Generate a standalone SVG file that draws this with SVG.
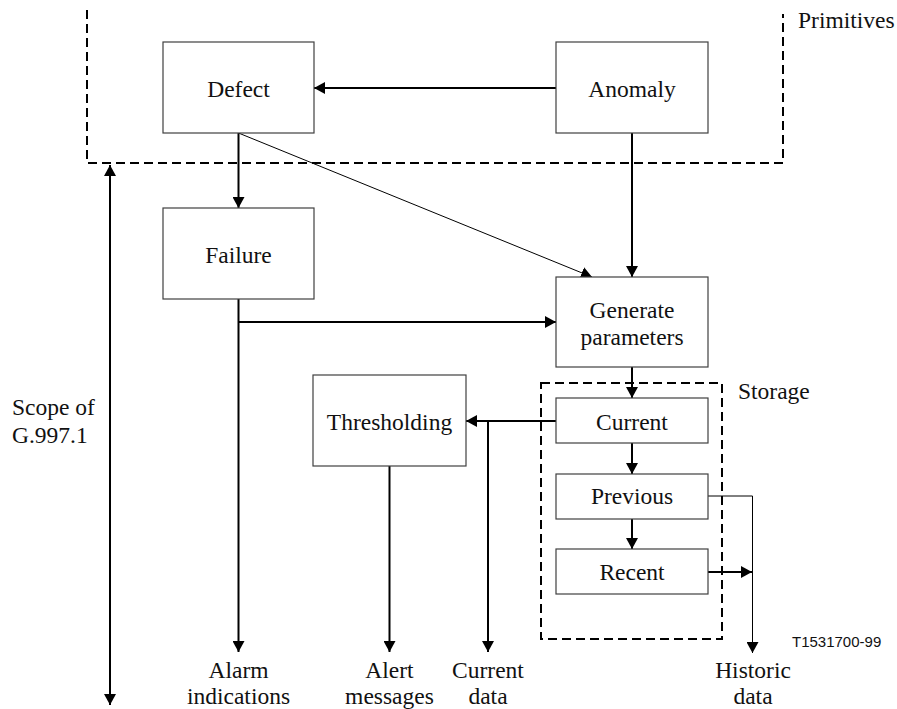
<svg xmlns="http://www.w3.org/2000/svg" width="897" height="709" viewBox="0 0 897 709">
<style>
  .box { fill: #ffffff; stroke: #404040; stroke-width: 1.2; }
  .lbl { font-family: "Liberation Serif", "Times New Roman", serif; font-size: 23.5px; fill: #111; }
  .mid { text-anchor: middle; }
  .thick { fill: none; stroke: #000; stroke-width: 2; }
  .thin { fill: none; stroke: #000; stroke-width: 1; }
  .dash { fill: none; stroke: #000; stroke-width: 2; stroke-dasharray: 9 5; }
  .code { font-family: "Liberation Sans", Arial, sans-serif; font-size: 15px; fill: #111; }
</style>
<defs>
  <marker id="ah" markerUnits="userSpaceOnUse" markerWidth="11" markerHeight="12" refX="11" refY="6" orient="auto-start-reverse">
    <path d="M0,0 L11,6 L0,12 z" fill="#000"/>
  </marker>
</defs>
<rect width="897" height="709" fill="#ffffff"/>

<g id="regions">
  <path class="dash" d="M87,10 L87,163 L783,163 L783,14"/>
  <text class="lbl" x="798" y="28">Primitives</text>
  <rect class="dash" x="541" y="383" width="181" height="256"/>
  <text class="lbl" x="738" y="399">Storage</text>
</g>

<g id="connectors">
  <path class="thick" d="M556,88 L314,88" marker-end="url(#ah)"/>
  <path class="thick" d="M238.5,133 L238.5,208" marker-end="url(#ah)"/>
  <path class="thin" d="M238.5,133 L592,277" marker-end="url(#ah)"/>
  <path class="thick" d="M632,133 L632,277" marker-end="url(#ah)"/>
  <path class="thick" d="M238.5,299 L238.5,652" marker-end="url(#ah)"/>
  <path class="thick" d="M238.5,322 L556,322" marker-end="url(#ah)"/>
  <path class="thick" d="M632,367 L632,398" marker-end="url(#ah)"/>
  <path class="thick" d="M556,421 L466,421" marker-end="url(#ah)"/>
  <path class="thick" d="M488,421 L488,652" marker-end="url(#ah)"/>
  <path class="thick" d="M389.5,466 L389.5,652" marker-end="url(#ah)"/>
  <path class="thick" d="M632,443 L632,474" marker-end="url(#ah)"/>
  <path class="thick" d="M632,519 L632,549" marker-end="url(#ah)"/>
  <path class="thin" d="M708,496 L752.5,496 L752.5,653" marker-end="url(#ah)"/>
  <path class="thick" d="M708,572 L752,572" marker-end="url(#ah)"/>
  <path class="thick" d="M110,165 L110,705" marker-start="url(#ah)" marker-end="url(#ah)"/>
</g>

<g id="defect">
  <rect class="box" x="163" y="42" width="151" height="91"/>
  <text class="lbl mid" x="238.5" y="97">Defect</text>
</g>
<g id="anomaly">
  <rect class="box" x="556" y="42" width="152" height="91"/>
  <text class="lbl mid" x="632" y="97">Anomaly</text>
</g>
<g id="failure">
  <rect class="box" x="163" y="208" width="151" height="91"/>
  <text class="lbl mid" x="238.5" y="263">Failure</text>
</g>
<g id="generate">
  <rect class="box" x="556" y="277" width="152" height="90"/>
  <text class="lbl mid" x="632" y="318">Generate</text>
  <text class="lbl mid" x="632" y="345">parameters</text>
</g>
<g id="thresholding">
  <rect class="box" x="313" y="375" width="153" height="91"/>
  <text class="lbl mid" x="389.5" y="430">Thresholding</text>
</g>
<g id="current">
  <rect class="box" x="556" y="398" width="152" height="45"/>
  <text class="lbl mid" x="632" y="430">Current</text>
</g>
<g id="previous">
  <rect class="box" x="556" y="474" width="152" height="45"/>
  <text class="lbl mid" x="632" y="504">Previous</text>
</g>
<g id="recent">
  <rect class="box" x="556" y="549" width="152" height="45"/>
  <text class="lbl mid" x="632" y="580">Recent</text>
</g>

<g id="labels">
  <text class="lbl" x="12" y="415">Scope of</text>
  <text class="lbl" x="12" y="443">G.997.1</text>
  <text class="lbl mid" x="238.5" y="678">Alarm</text>
  <text class="lbl mid" x="238.5" y="704">indications</text>
  <text class="lbl mid" x="389.5" y="678">Alert</text>
  <text class="lbl mid" x="389.5" y="704">messages</text>
  <text class="lbl mid" x="488" y="678">Current</text>
  <text class="lbl mid" x="488" y="704">data</text>
  <text class="lbl mid" x="753" y="678">Historic</text>
  <text class="lbl mid" x="753" y="704">data</text>
  <text class="code" x="792" y="647">T1531700-99</text>
</g>
</svg>
